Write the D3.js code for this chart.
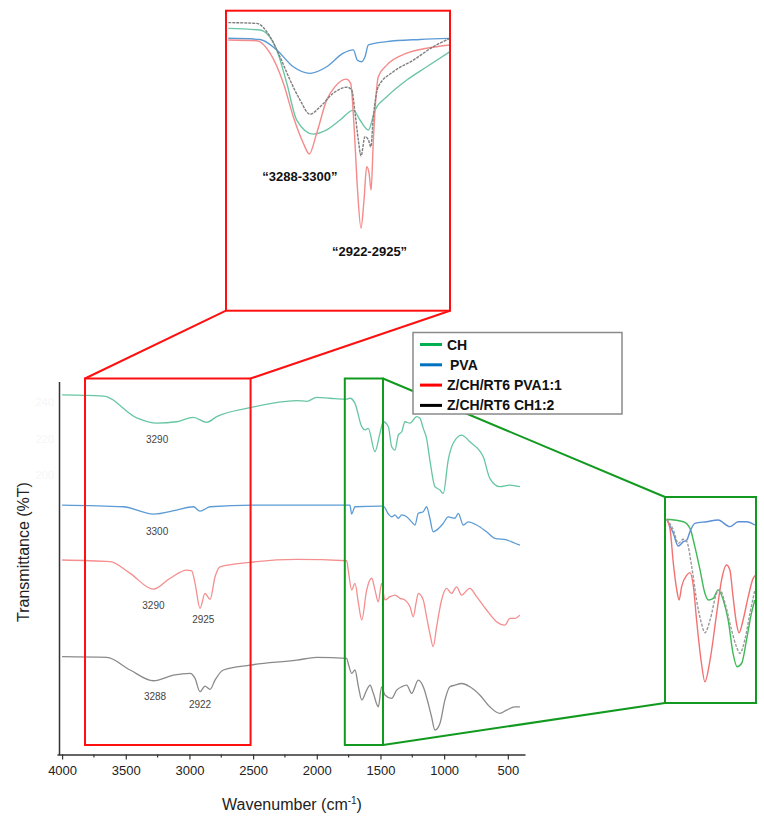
<!DOCTYPE html>
<html>
<head>
<meta charset="utf-8">
<script src="https://cdn.jsdelivr.net/npm/d3@7"></script>
<style>
  body { margin: 0; background: #fff; }
  svg { display: block; font-family: "Liberation Sans", Arial, sans-serif; }
</style>
</head>
<body>
<script>
// ---- main spectra: [wavenumber cm-1, %T (offset)] ----
var chSpectrum = [[4000,243.9],[3676,243.3],[3414,231.3],[3257,228.4],[3100,229.2],[2969,231.6],[2864,228.9],[2786,232.0],
  [2524,236.9],[2158,240.8],[2079,240.4],[2001,242.6],[1896,242.1],[1765,241.6],[1740,242.1],[1700,239.3],[1647,226.5],
  [1622,224.7],[1596,225.6],[1543,212.8],[1504,222.8],[1478,229.2],[1438,226.5],[1412,215.5],[1386,213.7],[1360,221.9],
  [1333,223.7],[1308,229.2],[1268,228.4],[1216,232.0],[1190,231.1],[1164,225.6],[1138,220.1],[1112,208.2],[1072,193.6],
  [1033,191.8],[1007,189.9],[968,208.2],[929,217.4],[863,221.9],[798,218.2],[693,210.0],[641,198.2],[562,193.6],
  [484,194.5],[405,193.6]];

var pvaSpectrum = [[4000,183.5],[3519,182.6],[3283,178.6],[3100,180.8],[2969,182.6],[2917,180.2],[2838,182.6],[2500,183.5],
  [1765,183.5],[1740,183.5],[1726,178.6],[1700,182.6],[1500,183.0],[1478,183.0],[1438,178.6],[1412,177.1],[1386,178.1],
  [1360,176.3],[1333,178.1],[1294,177.1],[1255,174.3],[1229,172.6],[1203,179.0],[1164,179.9],[1138,182.6],[1112,176.3],
  [1086,168.9],[1059,169.8],[1007,173.5],[968,177.1],[915,176.3],[889,179.0],[850,172.6],[811,174.3],[745,172.6],
  [667,168.9],[601,165.3],[510,164.4],[444,162.6],[405,161.6]];

var pva11Spectrum = [[4000,153.4],[3623,152.5],[3466,146.1],[3283,137.4],[3152,143.4],[3021,147.9],[2982,147.5],[2956,140.6],
  [2917,126.9],[2878,135.1],[2838,131.8],[2799,144.2],[2760,149.7],[2524,152.1],[2158,153.7],[1765,153.0],[1753,147.9],
  [1726,137.0],[1700,140.6],[1673,129.7],[1647,120.5],[1608,137.0],[1569,143.4],[1543,137.0],[1517,130.5],[1491,140.6],
  [1465,131.5],[1425,133.3],[1386,134.2],[1347,132.4],[1308,131.5],[1268,127.8],[1242,122.3],[1221,129.7],[1203,135.1],
  [1164,131.5],[1138,122.3],[1112,113.2],[1086,105.9],[1059,116.8],[1020,131.5],[981,137.9],[942,135.1],[902,138.7],
  [863,134.2],[798,137.9],[745,133.3],[667,126.0],[589,119.6],[523,117.7],[484,121.4],[444,121.4],[405,123.2]];

var ch12Spectrum = [[4000,100.4],[3649,100.0],[3466,93.1],[3283,87.2],[3126,90.3],[2995,91.3],[2956,88.5],[2917,81.2],
  [2878,84.3],[2838,82.5],[2799,87.6],[2734,93.1],[2524,95.8],[2158,98.5],[2001,100.0],[1765,99.5],[1753,96.7],
  [1726,91.2],[1700,93.1],[1673,83.9],[1647,76.6],[1608,82.1],[1582,84.8],[1556,80.3],[1517,72.9],[1491,83.9],
  [1465,79.4],[1412,77.5],[1373,82.1],[1333,83.9],[1294,84.8],[1255,80.3],[1203,87.6],[1164,83.9],[1125,74.8],
  [1099,67.5],[1072,60.2],[1033,63.8],[994,76.6],[955,83.9],[915,84.8],[863,85.7],[798,83.9],[720,79.4],[641,72.9],
  [562,69.3],[510,71.1],[444,72.9],[405,72.9]];

// ---- top inset (O-H / C-H region) ----
var chTop = [[3862,93.7],[3638,93.1],[3520,85.9],[3449,73.8],[3379,60.5],[3262,55.4],[3167,56.9],[3073,60.5],[2979,64.1],
  [2932,60.5],[2873,56.9],[2826,64.1],[2743,68.9],[2602,75.0],[2461,79.8],[2297,85.3]];
var pvaTop = [[3862,90.1],[3638,89.7],[3520,85.9],[3403,79.8],[3285,77.4],[3167,79.8],[3050,84.7],[2979,85.9],[2951,82.2],
  [2920,81.6],[2897,83.4],[2873,87.7],[2743,88.9],[2508,89.7],[2297,90.1]];
var pva11Top = [[3862,89.5],[3661,89.2],[3567,84.7],[3473,73.8],[3403,61.7],[3332,52.1],[3290,48.2],[3238,55.7],[3167,67.8],
  [3108,72.6],[3031,75.3],[2998,73.8],[2974,58.1],[2951,36.3],[2925,21.3],[2904,31.5],[2885,43.6],[2868,41.2],[2854,35.1],
  [2838,53.3],[2803,76.2],[2743,80.4],[2602,84.7],[2461,86.5],[2297,87.7]];
var ch12Top = [[3862,95.8],[3661,95.5],[3567,90.7],[3497,83.4],[3426,75.0],[3356,67.8],[3285,62.6],[3214,65.3],[3121,70.2],
  [3026,72.4],[2991,71.4],[2967,62.9],[2944,53.3],[2925,47.5],[2897,54.5],[2873,53.3],[2856,50.8],[2838,61.7],[2803,72.6],
  [2697,78.0],[2556,82.2],[2414,87.1],[2297,90.1]];

// ---- right inset (amide / C=O region) ----
var chRight = [[1769,89.2],[1711,88.0],[1688,84.8],[1671,75.9],[1653,64.6],[1636,53.3],[1624,50.0],[1607,50.8],[1590,54.9],
  [1572,50.0],[1555,40.3],[1538,24.1],[1524,17.6],[1508,19.3],[1491,30.6],[1474,43.5],[1462,50.0]];
var pvaRight = [[1769,89.2],[1746,82.4],[1729,76.2],[1711,78.3],[1699,79.1],[1688,83.2],[1671,87.2],[1630,88.0],[1590,88.8],
  [1549,85.6],[1520,88.0],[1491,88.0],[1462,86.4]];
var pva11Right = [[1769,89.2],[1757,84.0],[1746,67.8],[1734,54.9],[1726,50.0],[1717,56.5],[1699,62.1],[1688,63.3],[1676,56.5],
  [1665,40.3],[1648,19.3],[1636,10.3],[1618,20.9],[1595,43.5],[1578,59.7],[1561,67.0],[1549,64.6],[1538,51.6],[1526,38.7],
  [1517,34.1],[1503,40.3],[1485,51.6],[1468,60.5],[1459,62.1]];
var ch12Right = [[1769,89.2],[1746,84.0],[1729,77.5],[1711,79.5],[1699,78.3],[1682,66.2],[1665,50.0],[1648,38.7],[1636,34.1],
  [1618,40.3],[1595,53.3],[1584,54.9],[1566,48.4],[1543,35.4],[1526,27.3],[1514,24.1],[1497,30.6],[1479,43.5],[1462,54.9]];

var seriesNames = ["CH", "PVA", "Z/CH/RT6 PVA1:1", "Z/CH/RT6 CH1:2"];
var legendColors = ["#00b050", "#0070c0", "#ff0000", "#000000"];
var mainColors = ["#66c6a2", "#5b9bd5", "#f58e8e", "#8a8a8a"];
var xTicks = [4000, 3500, 3000, 2500, 2000, 1500, 1000, 500];
var yFaintTicks = [240, 220, 200];

// peak labels: [text, wavenumber position, %T position]
var peakLabels = [["3290",3254,217.3],["3300",3254,167.0],["3290",3283,126.8],["2925",2891,118.6],["3288",3270,76.9],["2922",2917,72.0]];
var insetLabels = [["\u201c3288-3300\u201d",3356,38.4],["\u201c2922-2925\u201d",2865,11.2]];

var redZoom = [3820, 2520];
var greenZoom = [1780, 1480];

var W = 764, H = 819;
var svg = d3.select("body").append("svg").attr("width", W).attr("height", H);

// main scales
var x = d3.scaleLinear().domain([4040, 365]).range([57, 525]);
var y = d3.scaleLinear().domain([46.5, 251]).range([755, 382]);

var line = d3.line().x(d => x(d[0])).y(d => y(d[1])).curve(d3.curveMonotoneX);
[chSpectrum, pvaSpectrum, pva11Spectrum, ch12Spectrum].forEach((s, i) => {
  svg.append("path").attr("d", line(s)).attr("fill", "none")
    .attr("stroke", mainColors[i]).attr("stroke-width", 1.3);
});

// axes
var xAxis = d3.axisBottom(x).tickValues(xTicks).tickSize(5).tickSizeOuter(0).tickFormat(d3.format("d"));
var gx = svg.append("g").attr("transform", "translate(0,754.5)").call(xAxis);
gx.select(".domain").attr("stroke", "#333").attr("stroke-width", 1.5);
gx.selectAll(".tick line").attr("stroke", "#333").attr("stroke-width", 1.2);
gx.selectAll(".tick text").attr("font-size", 13).attr("fill", "#222").attr("dy", "0.95em")
  .attr("font-family", "Liberation Sans, Arial, sans-serif");
// minor ticks
svg.append("g").selectAll("line").data(d3.range(3750, 400, -500)).join("line")
  .attr("x1", d => x(d)).attr("x2", d => x(d)).attr("y1", 754.5).attr("y2", 757.5)
  .attr("stroke", "#333").attr("stroke-width", 1.2);

svg.append("line").attr("x1", 59.5).attr("x2", 59.5).attr("y1", y(251)).attr("y2", 755)
  .attr("stroke", "#333").attr("stroke-width", 1.5);
svg.append("g").selectAll("text").data(yFaintTicks).join("text")
  .attr("x", 54).attr("y", d => y(d) + 4).attr("text-anchor", "end")
  .attr("font-size", 11).attr("fill", "#f5f6f8").text(d => d);

svg.append("text").attr("x", 292).attr("y", 810).attr("text-anchor", "middle")
  .attr("font-size", 16).attr("fill", "#222")
  .html('Wavenumber (cm<tspan dy="-6" font-size="10">-1</tspan><tspan dy="6">)</tspan>');
svg.append("text").attr("transform", "translate(29,552) rotate(-90)").attr("text-anchor", "middle")
  .attr("font-size", 16).attr("fill", "#222").text("Transmittance (%T)");

// peak labels
svg.append("g").selectAll("text").data(peakLabels).join("text")
  .attr("x", d => x(d[1])).attr("y", d => y(d[2])).attr("text-anchor", "middle")
  .attr("font-size", 10).attr("fill", "#444").text(d => d[0]);

// zoom boxes on main plot
var boxTop = 378.5, boxBottom = 745;
svg.append("rect").attr("x", x(redZoom[0])).attr("y", boxTop)
  .attr("width", x(redZoom[1]) - x(redZoom[0])).attr("height", boxBottom - boxTop)
  .attr("fill", "none").attr("stroke", "#ff1010").attr("stroke-width", 2);
svg.append("rect").attr("x", x(greenZoom[0])).attr("y", boxTop)
  .attr("width", x(greenZoom[1]) - x(greenZoom[0])).attr("height", boxBottom - boxTop)
  .attr("fill", "none").attr("stroke", "#119a1f").attr("stroke-width", 2);

// top inset
var topBox = {x0: 226, x1: 450, y0: 10.7, y1: 310.7};
var xt = d3.scaleLinear().domain([3878, 2297]).range([topBox.x0, topBox.x1]);
var yt = d3.scaleLinear().domain([0, 100]).range([287, 11]);
var lineTop = d3.line().x(d => xt(d[0])).y(d => yt(d[1])).curve(d3.curveMonotoneX);
var topColors = ["#6cc6a6", "#5b9bd5", "#f48a8a", "#7f7f7f"];
[chTop, pvaTop, pva11Top, ch12Top].forEach((s, i) => {
  svg.append("path").attr("d", lineTop(s)).attr("fill", "none")
    .attr("stroke", topColors[i]).attr("stroke-width", 1.4)
    .attr("stroke-dasharray", i === 3 ? "3,1" : null);
});
svg.append("g").selectAll("text").data(insetLabels).join("text")
  .attr("x", d => xt(d[1])).attr("y", d => yt(d[2])).attr("text-anchor", "middle")
  .attr("font-size", 13).attr("font-weight", "bold").attr("fill", "#111").text(d => d[0]);

// red connectors + inset frame
svg.append("line").attr("x1", x(redZoom[0])).attr("y1", boxTop).attr("x2", topBox.x0).attr("y2", topBox.y1)
  .attr("stroke", "#ff1010").attr("stroke-width", 2);
svg.append("line").attr("x1", x(redZoom[1])).attr("y1", boxTop).attr("x2", topBox.x1).attr("y2", topBox.y1)
  .attr("stroke", "#ff1010").attr("stroke-width", 2);
svg.append("rect").attr("x", topBox.x0).attr("y", topBox.y0)
  .attr("width", topBox.x1 - topBox.x0).attr("height", topBox.y1 - topBox.y0)
  .attr("fill", "none").attr("stroke", "#ff1010").attr("stroke-width", 2);

// right inset
var rightBox = {x0: 665, x1: 756, y0: 497, y1: 703};
var xr = d3.scaleLinear().domain([1775, 1458]).range([rightBox.x0, rightBox.x1]);
var yr = d3.scaleLinear().domain([0, 100]).range([703, 497]);
var lineRight = d3.line().x(d => xr(d[0])).y(d => yr(d[1])).curve(d3.curveMonotoneX);
var rightColors = ["#3dba55", "#5b8fd8", "#f27272", "#9a9a9a"];
[chRight, pvaRight, pva11Right, ch12Right].forEach((s, i) => {
  svg.append("path").attr("d", lineRight(s)).attr("fill", "none")
    .attr("stroke", rightColors[i]).attr("stroke-width", 1.4)
    .attr("stroke-dasharray", i === 3 ? "3,1.5" : null);
});

// green connectors + frame
svg.append("line").attr("x1", x(greenZoom[1])).attr("y1", boxTop).attr("x2", rightBox.x0).attr("y2", rightBox.y0)
  .attr("stroke", "#119a1f").attr("stroke-width", 2);
svg.append("line").attr("x1", x(greenZoom[1])).attr("y1", boxBottom).attr("x2", rightBox.x0).attr("y2", rightBox.y1)
  .attr("stroke", "#119a1f").attr("stroke-width", 2);
svg.append("rect").attr("x", rightBox.x0).attr("y", rightBox.y0)
  .attr("width", rightBox.x1 - rightBox.x0).attr("height", rightBox.y1 - rightBox.y0)
  .attr("fill", "none").attr("stroke", "#119a1f").attr("stroke-width", 2);

// legend
var lg = svg.append("g").attr("transform", "translate(413,332.5)");
lg.append("rect").attr("width", 209).attr("height", 81.5).attr("fill", "#fff")
  .attr("stroke", "#8a8a8a").attr("stroke-width", 1.5);
var rows = lg.selectAll("g").data(seriesNames).join("g")
  .attr("transform", (d, i) => "translate(0," + (12 + i * 20.3) + ")");
rows.append("line").attr("x1", 7).attr("x2", 29).attr("stroke", (d, i) => legendColors[i]).attr("stroke-width", 3);
rows.append("text").attr("x", (d, i) => i === 1 ? 37 : 34).attr("y", 5).attr("font-size", 14)
  .attr("font-weight", "bold").attr("fill", "#111").text(d => d);
</script>
</body>
</html>
